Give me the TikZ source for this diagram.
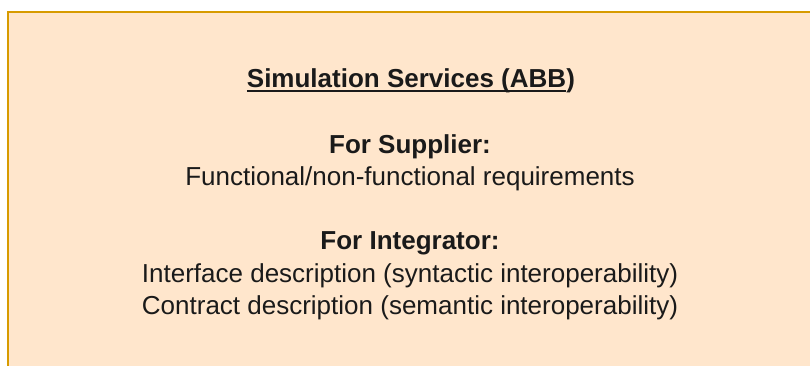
\documentclass[tikz,border=0pt]{standalone}
\usepackage{fontspec}
\setmainfont{Liberation Sans}
\usepackage{xcolor}
\usetikzlibrary{positioning}
\definecolor{panelFill}{HTML}{FFE6CC}
\definecolor{panelLine}{HTML}{D79B00}
\definecolor{inkText}{HTML}{1A1A1A}
\newcommand{\ulabel}[1]{\setbox0\hbox{#1}\rlap{\rule[-4.5pt]{\wd0}{1.5pt}}\box0}
\tikzset{
    panel/.style={rectangle, draw=panelLine, line width=1.5pt, fill=panelFill},
    headline/.style={anchor=base, inner sep=0pt, text=inkText, font=\fontsize{26}{32}\selectfont\bfseries},
    bodyline/.style={anchor=base, inner sep=0pt, text=inkText, font=\fontsize{26}{32}\selectfont}
}
\begin{document}
\begin{tikzpicture}[x=1pt, y=-1pt]
    \useasboundingbox (0,0) rectangle (810,365);
    % Panel
    \draw[panel] (8,12) rectangle (815,372);
    % Title
    \node[headline] (title) at (411,87) {\ulabel{Simulation Services (ABB}\kern0.2pt)};
    % Supplier
    \node[headline] (supHead) at (410,153) {For Supplier:};
    \node[bodyline] (supReq) at (410,185) {Functional/non-functional requirements};
    % Integrator
    \node[headline] (intHead) at (410,249) {For Integrator:};
    \node[bodyline] (intIface) at (410,282) {Interface description (syntactic interoperability)};
    \node[bodyline] (intContract) at (410,314) {Contract description (semantic interoperability)};
\end{tikzpicture}
\end{document}
